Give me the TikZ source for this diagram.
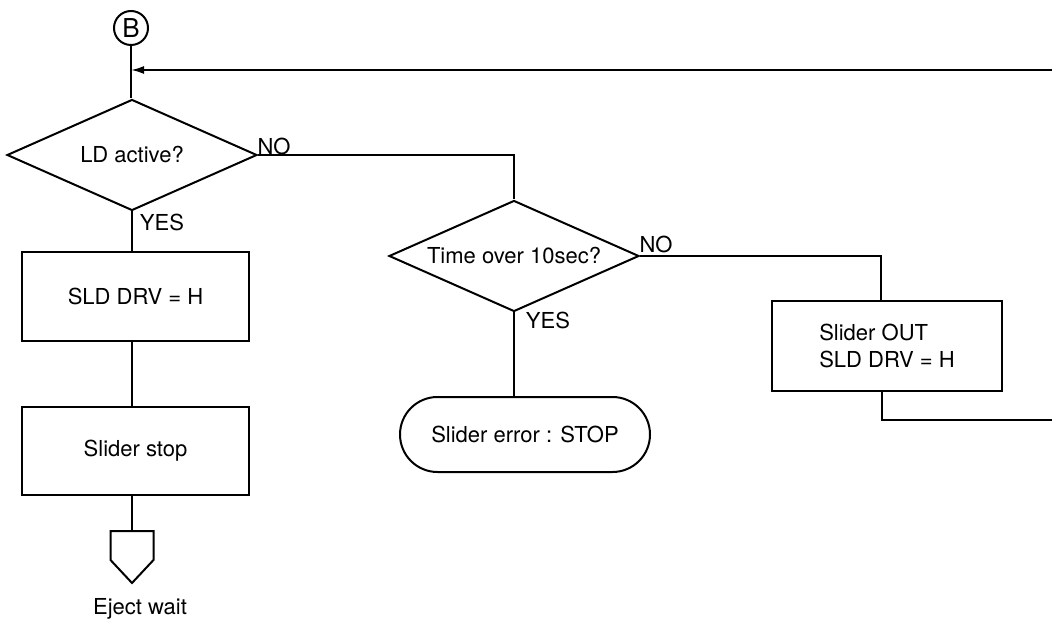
\documentclass[tikz,border=0pt]{standalone}
\usepackage{fontspec}
\setmainfont{TeX Gyre Heros}
\usetikzlibrary{shapes}
\usetikzlibrary{positioning}
\usetikzlibrary{arrows.meta}
\tikzset{
    mybox/.style = {rectangle, line width=2pt, draw=black, align=center, minimum width=227pt, minimum height=88pt, inner sep=0pt, font=\fontsize{22}{27}\selectfont},
    mydiam/.style = {diamond, aspect=2.25, line width=2pt, draw=black, align=center, minimum width=250pt, minimum height=111pt, inner sep=0pt, font=\fontsize{22}{27}\selectfont},
    myterm/.style = {rounded rectangle, line width=2pt, draw=black, align=center, minimum width=250pt, minimum height=75pt, inner sep=0pt, font=\fontsize{22}{27}\selectfont},
    myconn/.style = {circle, line width=2pt, draw=black, minimum size=34pt, inner sep=0pt, font=\fontsize{26}{26}\selectfont},
    mylabel/.style = {inner sep=0pt, font=\fontsize{22}{27}\selectfont},
    edgen/.style = {-, line width=2pt, black},
    edgea/.style = {-{Latex[length=13pt,width=8pt]}, line width=2pt, black}
}
\begin{document}
\begin{tikzpicture}[x=1pt,y=-1pt]
\useasboundingbox (0,0) rectangle (1052,628);
\node[myconn] at ( 131,  28) (B) {B};
\node[mydiam] at ( 132, 155) (ld) {LD active?};
\node[mybox] at ( 135.5, 296.5) (drv) {SLD DRV = H};
\node[mybox] at ( 135.5, 450.5) (stop) {Slider stop};
\node[mylabel] at ( 140, 609) (waittxt) {Eject wait};
\node[mydiam] at ( 514, 256) (time) {Time over 10sec?};
\node[myterm] at ( 525, 434.5) (err) {Slider error : STOP};
\node[mybox, minimum width=230pt, minimum height=90pt, align=left] at ( 887, 346) (out) {Slider OUT\\SLD DRV = H};

\node[mylabel] at ( 274, 146) (no1) {NO};
\node[mylabel] at ( 162, 222) (yes1) {YES};
\node[mylabel] at ( 656, 244) (no2) {NO};
\node[mylabel] at ( 548, 320) (yes2) {YES};

\coordinate (wait) at (132, 531);
\coordinate (rt) at (1052, 70);
\coordinate (rb) at (1052, 420);

% off-page connector
\draw[edgen] (wait) -- ++(21.5,0) -- ++(0,29) -- ++(-21.5,23) -- ++(-21.5,-23) -- ++(0,-29) -- cycle;

\draw[edgen] (B) -- (B |- ld.north);
\draw[edgea] (rt) -- (rt -| B);
\draw[edgen] (ld.east) -| (time.north);
\draw[edgen] (ld.south) -- (ld.south |- drv.north);
\draw[edgen] (ld.south |- drv.south) -- (ld.south |- stop.north);
\draw[edgen] (ld.south |- stop.south) -- (wait);
\draw[edgen] (time.south) -- (time.south |- err.north);
\draw[edgen] (time.east) -| ([xshift=-6pt]out.north);
\draw[edgen] ([xshift=-5pt]out.south) |- (rb);

\end{tikzpicture}
\end{document}
